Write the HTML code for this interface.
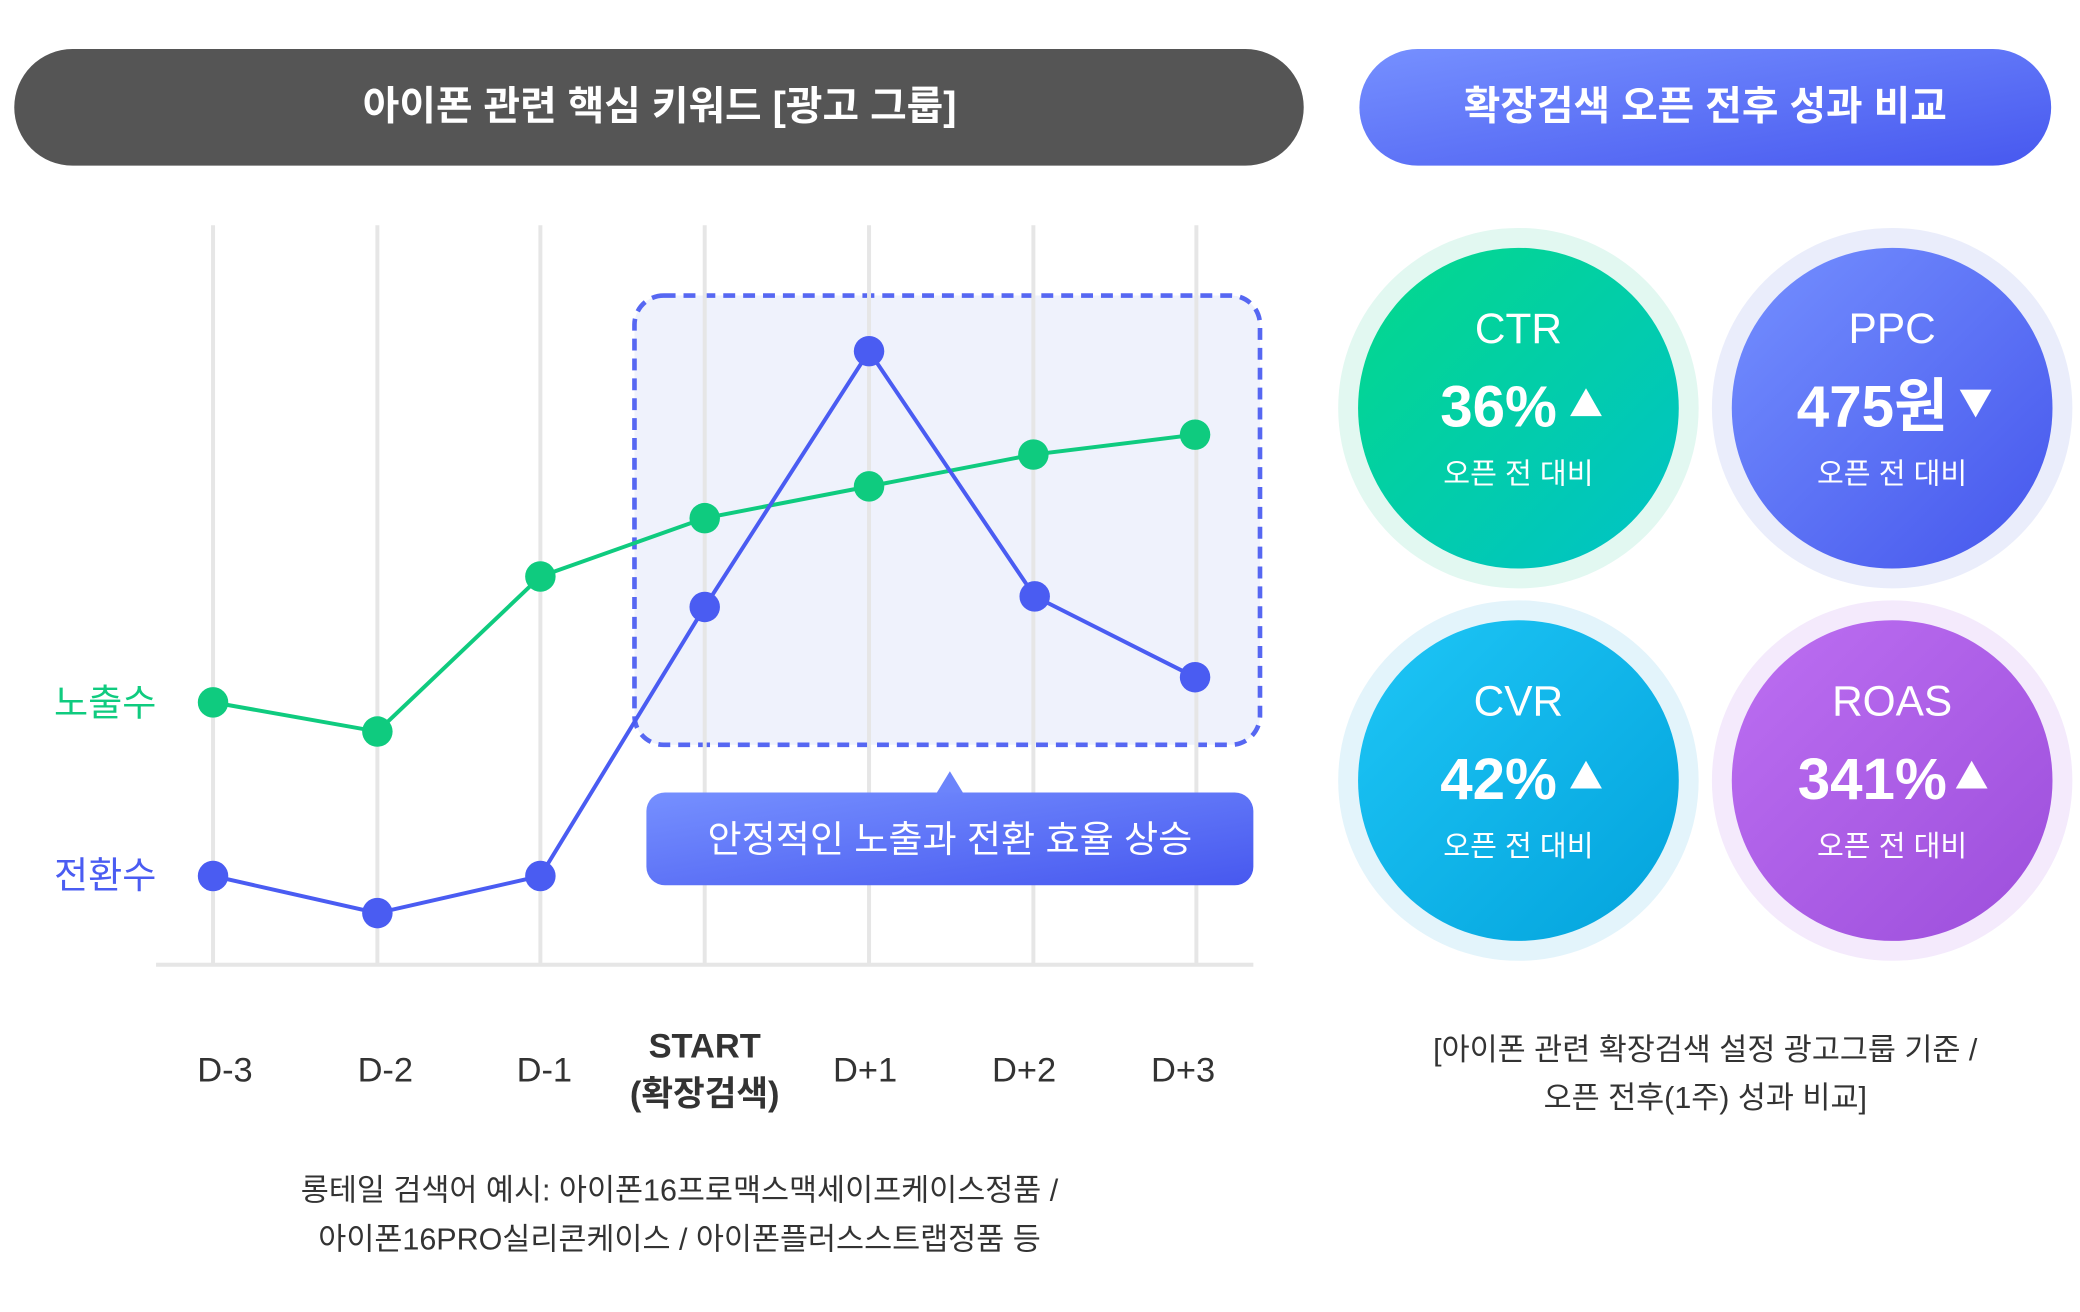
<!DOCTYPE html>
<html><head><meta charset="utf-8"><style>
html,body{margin:0;padding:0;background:#fff;}
svg{display:block;font-family:"Liberation Sans","Noto Sans CJK KR",sans-serif;}
</style></head><body>
<svg width="2080" height="1312" viewBox="0 0 1568 990" xmlns="http://www.w3.org/2000/svg">
<defs>
<linearGradient id="gb" x1="0" y1="0" x2="1" y2="1"><stop offset="0" stop-color="#7690ff"/><stop offset="1" stop-color="#4758ef"/></linearGradient>
<linearGradient id="gg" x1="0" y1="0" x2="1" y2="1"><stop offset="0" stop-color="#04d98a"/><stop offset="1" stop-color="#00c2c8"/></linearGradient>
<linearGradient id="gp" x1="0" y1="0" x2="1" y2="1"><stop offset="0" stop-color="#7590ff"/><stop offset="1" stop-color="#4556ec"/></linearGradient>
<linearGradient id="gc" x1="0" y1="0" x2="1" y2="1"><stop offset="0" stop-color="#1ec6f6"/><stop offset="1" stop-color="#03a3dc"/></linearGradient>
<linearGradient id="gr" x1="0" y1="0" x2="1" y2="1"><stop offset="0" stop-color="#bd6ff2"/><stop offset="1" stop-color="#9c4edb"/></linearGradient>
</defs>
<rect x="10" y="37" width="973" height="88" rx="44" fill="#555555"/>
<text x="497" y="90" text-anchor="middle" font-size="30" font-weight="bold" fill="#fff">아이폰 관련 핵심 키워드 [광고 그룹]</text>
<rect x="1025" y="37" width="522" height="88" rx="44" fill="url(#gb)"/>
<text x="1286" y="90" text-anchor="middle" font-size="30" font-weight="bold" fill="#fff">확장검색 오픈 전후 성과 비교</text>

<rect x="478" y="223" width="472" height="339" rx="22" fill="#eff2fc" stroke="#5667f2" stroke-width="3.5" stroke-dasharray="9 6"/>
<g stroke="#e6e6e6" stroke-width="3">
<line x1="160" y1="170" x2="160" y2="728"/><line x1="284" y1="170" x2="284" y2="728"/><line x1="407" y1="170" x2="407" y2="728"/><line x1="531" y1="170" x2="531" y2="728"/><line x1="655" y1="170" x2="655" y2="728"/><line x1="779" y1="170" x2="779" y2="728"/><line x1="902" y1="170" x2="902" y2="728"/>
<line x1="117" y1="728" x2="945" y2="728"/>
</g>
<polyline points="160,530 284,552 407,435 531,391 655,367 779,343 901,328" fill="none" stroke="#0fcb7f" stroke-width="3"/>
<polyline points="160,661 284,689 407,661 531,458 655,265 780,450 901,511" fill="none" stroke="#4a5cf2" stroke-width="3"/>
<g fill="#0fcb7f"><circle cx="160" cy="530" r="11.5"/><circle cx="284" cy="552" r="11.5"/><circle cx="407" cy="435" r="11.5"/><circle cx="531" cy="391" r="11.5"/><circle cx="655" cy="367" r="11.5"/><circle cx="779" cy="343" r="11.5"/><circle cx="901" cy="328" r="11.5"/></g>
<g fill="#4a5cf2"><circle cx="160" cy="661" r="11.5"/><circle cx="284" cy="689" r="11.5"/><circle cx="407" cy="661" r="11.5"/><circle cx="531" cy="458" r="11.5"/><circle cx="655" cy="265" r="11.5"/><circle cx="780" cy="450" r="11.5"/><circle cx="901" cy="511" r="11.5"/></g>
<text x="40" y="540" font-size="28" fill="#0fcb7f">노출수</text>
<text x="40" y="670" font-size="28" fill="#4a5cf2">전환수</text>

<path d="M705 600 L716 582 L727 600 Z" fill="#6c84fb"/>
<rect x="487" y="598" width="458" height="70" rx="14" fill="url(#gb)"/>
<text x="716" y="643" text-anchor="middle" font-size="28" fill="#fff">안정적인 노출과 전환 효율 상승</text>

<g font-size="26" fill="#333" text-anchor="middle">
<text x="169" y="816">D-3</text><text x="290" y="816">D-2</text><text x="410" y="816">D-1</text>
<text x="531" y="798" font-weight="bold">START</text><text x="531" y="834" font-weight="bold">(확장검색)</text>
<text x="652" y="816">D+1</text><text x="772" y="816">D+2</text><text x="892" y="816">D+3</text>
</g>
<g font-size="23" fill="#333" text-anchor="middle">
<text x="512" y="906">롱테일 검색어 예시: 아이폰16프로맥스맥세이프케이스정품 /</text>
<text x="512" y="943">아이폰16PRO실리콘케이스 / 아이폰플러스스트랩정품 등</text>
<text x="1286" y="800">[아이폰 관련 확장검색 설정 광고그룹 기준 /</text>
<text x="1286" y="836">오픈 전후(1주) 성과 비교]</text>
</g>

<g text-anchor="middle" fill="#fff">
<circle cx="1145" cy="308" r="136" fill="#e2f8f1"/><circle cx="1145" cy="308" r="121" fill="url(#gg)"/>
<text x="1145" y="259" font-size="32">CTR</text><text x="1130" y="322" font-size="44" font-weight="bold">36%</text><path d="M1184 314 L1196 293 L1208 314 Z"/><text x="1145" y="365" font-size="22">오픈 전 대비</text>
<circle cx="1427" cy="308" r="136" fill="#eaedfb"/><circle cx="1427" cy="308" r="121" fill="url(#gp)"/>
<text x="1427" y="259" font-size="32">PPC</text><text x="1412" y="322" font-size="44" font-weight="bold">475원</text><path d="M1478 294 L1490 315 L1502 294 Z"/><text x="1427" y="365" font-size="22">오픈 전 대비</text>
<circle cx="1145" cy="589" r="136" fill="#e3f4fb"/><circle cx="1145" cy="589" r="121" fill="url(#gc)"/>
<text x="1145" y="540" font-size="32">CVR</text><text x="1130" y="603" font-size="44" font-weight="bold">42%</text><path d="M1184 595 L1196 574 L1208 595 Z"/><text x="1145" y="646" font-size="22">오픈 전 대비</text>
<circle cx="1427" cy="589" r="136" fill="#f4eafc"/><circle cx="1427" cy="589" r="121" fill="url(#gr)"/>
<text x="1427" y="540" font-size="32">ROAS</text><text x="1412" y="603" font-size="44" font-weight="bold">341%</text><path d="M1475 595 L1487 574 L1499 595 Z"/><text x="1427" y="646" font-size="22">오픈 전 대비</text>
</g>
</svg>
</body></html>
